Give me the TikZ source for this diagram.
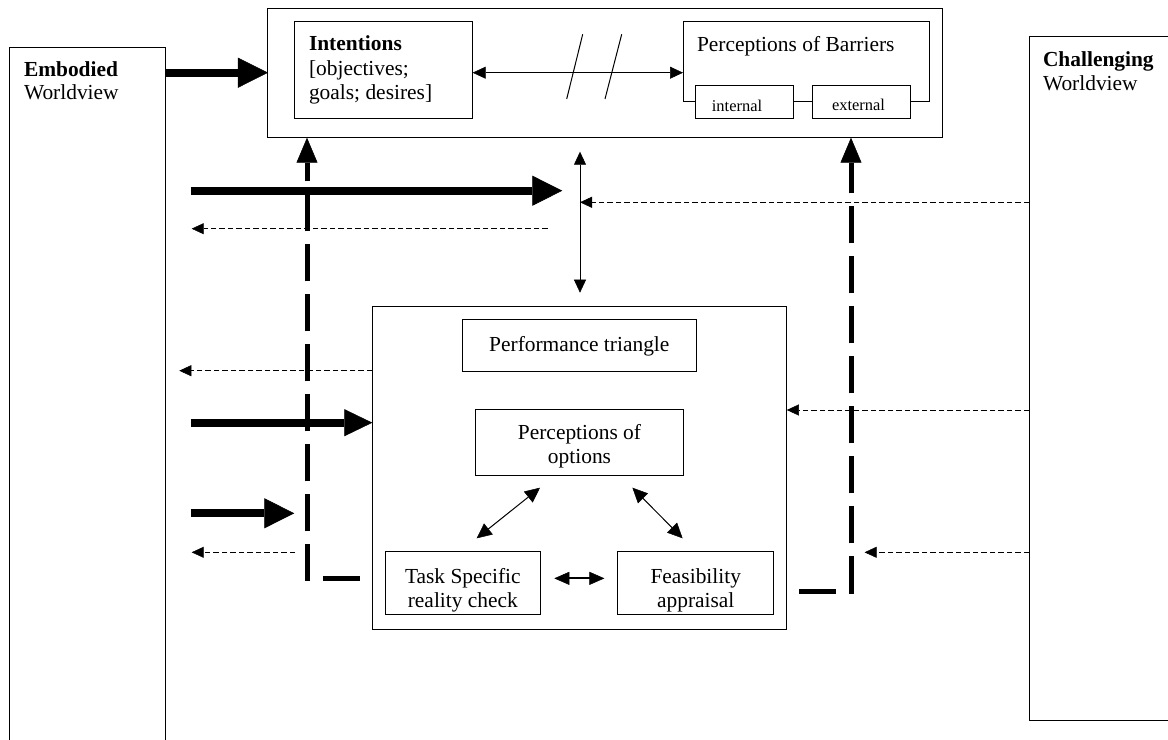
\documentclass[tikz,border=0pt]{standalone}
\usepackage{fontspec}
\setmainfont{Liberation Serif}
\usetikzlibrary{arrows.meta,calc}
\begin{document}
\begin{tikzpicture}[x=1bp,y=-1bp,
  box/.style={draw, line width=1bp, inner sep=0pt, outer sep=0pt},
  txt/.style={inner sep=0pt, outer sep=0pt, font=\fontsize{21.5}{24}\selectfont},
  smalltxt/.style={inner sep=0pt, outer sep=0pt, font=\fontsize{16.5}{19}\selectfont},
  thickarrow/.style={line width=8bp, -{Triangle[length=30bp,width=30bp,line width=0.5bp]}},
  thickarrowB/.style={line width=8bp, -{Triangle[length=28bp,width=27bp,line width=0.5bp]}},
  dasharrow/.style={line width=5bp, dash pattern=on 37bp off 13bp, -{Triangle[length=25bp,width=21bp,line width=0.5bp]}},
  thindash/.style={line width=1bp, dash pattern=on 5.5bp off 3bp, -{Triangle[length=12bp,width=11bp,line width=0.5bp]}},
  dbl/.style={line width=1bp, {Triangle[length=13bp,width=12bp,line width=0.5bp]}-{Triangle[length=13bp,width=12bp,line width=0.5bp]}},
  dblbig/.style={line width=1bp, {Triangle[length=15bp,width=14bp,line width=0.5bp]}-{Triangle[length=15bp,width=14bp,line width=0.5bp]}},
  dblthick/.style={line width=2bp, {Triangle[length=15bp,width=13bp,line width=0.5bp]}-{Triangle[length=15bp,width=13bp,line width=0.5bp]}}]
\useasboundingbox (0,0) rectangle (1168,740);
\clip (0,0) rectangle (1168,740);
\fill[white] (0,0) rectangle (1168,740);

% side boxes
\node[box, minimum width=155.7bp, minimum height=712.3bp] (emb) at (87.85,403.85) {};
\node[box, minimum width=171bp, minimum height=683bp] (chal) at (1114.5,378.5) {};
\node[txt, anchor=base west] (embt1) at (24,77) {\textbf{Embodied}};
\node[txt, anchor=base west] (embt2) at (24,100) {Worldview};
\node[txt, anchor=base west] (chat1) at (1043,67) {\textbf{Challenging}};
\node[txt, anchor=base west] (chat2) at (1043,91) {Worldview};

% top block
\node[box, minimum width=674bp, minimum height=129.4bp] (top) at (605,73) {};
\node[box, minimum width=178.7bp, minimum height=96.3bp] (int) at (383.35,69.85) {};
\node[txt, anchor=base west] (intt1) at (309,51) {\textbf{Intentions}};
\node[txt, anchor=base west] (intt2) at (309,76) {[objectives;};
\node[txt, anchor=base west] (intt3) at (309,100) {goals; desires]};
\node[box, minimum width=246bp, minimum height=80bp] (bar) at (806,61.7) {};
\node[txt, anchor=base west] (bart) at (697,51.5) {Perceptions of Barriers};
\node[box, fill=white, minimum width=97.3bp, minimum height=32.3bp] (inter) at (744.35,102.15) {};
\node[box, fill=white, minimum width=98bp, minimum height=32.3bp] (exter) at (861,102.15) {};
\node[smalltxt, anchor=base] (intert) at (737,111.5) {internal};
\node[smalltxt, anchor=base] (extert) at (858.5,111) {external};

% middle block
\node[box, minimum width=414.5bp, minimum height=323.3bp] (mid) at (579.55,467.65) {};
\node[box, minimum width=234bp, minimum height=52bp] (perf) at (579.3,345) {};
\node[txt, anchor=base] (perft) at (579.3,351) {Performance triangle};
\node[box, minimum width=207.6bp, minimum height=65.7bp] (opt) at (579.5,442.15) {};
\node[txt, anchor=base, align=center] (optt) at (579.5,463) {Perceptions of\\options};
\node[box, minimum width=155.7bp, minimum height=62.3bp] (task) at (462.85,582.85) {};
\node[box, minimum width=156.1bp, minimum height=62.3bp] (feas) at (695.75,582.85) {};
\begin{scope}
  \clip (task.north west) rectangle (task.south east);
  \node[txt, anchor=base, align=center] (taskt) at (462.85,607) {Task Specific\\reality check};
\end{scope}
\begin{scope}
  \clip (feas.north west) rectangle (feas.south east);
  \node[txt, anchor=base, align=center] (feast) at (695.75,607) {Feasibility\\appraisal};
\end{scope}

% coordinates for free ends
\coordinate (yA) at (0,72.7);
\coordinate (vt1) at (580,151.7);
\coordinate (vt2) at (580,292.7);
\coordinate (yB) at (0,202.3);
\coordinate (a1s) at (190.7,190.7);
\coordinate (a1e) at (562.3,190.7);
\coordinate (d1s) at (547.7,228.7);
\coordinate (d1e) at (191.7,228.7);
\coordinate (d2e) at (179.3,370.7);
\coordinate (a2s) at (190.7,422.7);
\coordinate (a3s) at (190.7,513.3);
\coordinate (a3e) at (294.3,513.3);
\coordinate (d3s) at (295,552.3);
\coordinate (d3e) at (191.7,552.3);
\coordinate (yC) at (0,410);
\coordinate (d5e) at (864.6,552.3);
\coordinate (ld) at (360,578.3);
\coordinate (lc) at (307,578.3);
\coordinate (rd) at (799,591.3);
\coordinate (rc) at (851,591.3);
\coordinate (o1a) at (540,487.7);
\coordinate (o1b) at (476.7,538.3);
\coordinate (o2a) at (632.4,487.7);
\coordinate (o2b) at (682.6,538.3);

% connectors
\draw[thickarrow] (emb.east |- yA) -- (top.west |- yA);
\draw[dbl] (int.east |- yA) -- (bar.west |- yA);
\draw[line width=1bp] (566.7,99) -- (582.7,34.3);
\draw[line width=1bp] (605,99) -- (621.7,34.3);

\draw[dasharrow] (ld) -- (lc) -- (lc |- top.south);
\draw[dasharrow] (rd) -- (rc) -- (rc |- top.south);

\draw[dbl] (vt1) -- (vt2);
\draw[thindash] (chal.west |- yB) -- (vt1 |- yB);
\draw[thickarrow] (a1s) -- (a1e);
\draw[thindash] (d1s) -- (d1e);
\draw[thindash] (mid.west |- d2e) -- (d2e);
\draw[thickarrowB] (a2s) -- (mid.west |- a2s);
\draw[thickarrow] (a3s) -- (a3e);
\draw[thindash] (d3s) -- (d3e);
\draw[thindash] (chal.west |- yC) -- (mid.east |- yC);
\draw[thindash] (chal.west |- d5e) -- (d5e);

\draw[dblbig] (o1a) -- (o1b);
\draw[dblbig] (o2a) -- (o2b);
\draw[dblthick, shorten <=13.6bp, shorten >=13.3bp] ([yshift=4.5bp]task.east) -- ([yshift=4.5bp]feas.west);
\end{tikzpicture}
\end{document}
